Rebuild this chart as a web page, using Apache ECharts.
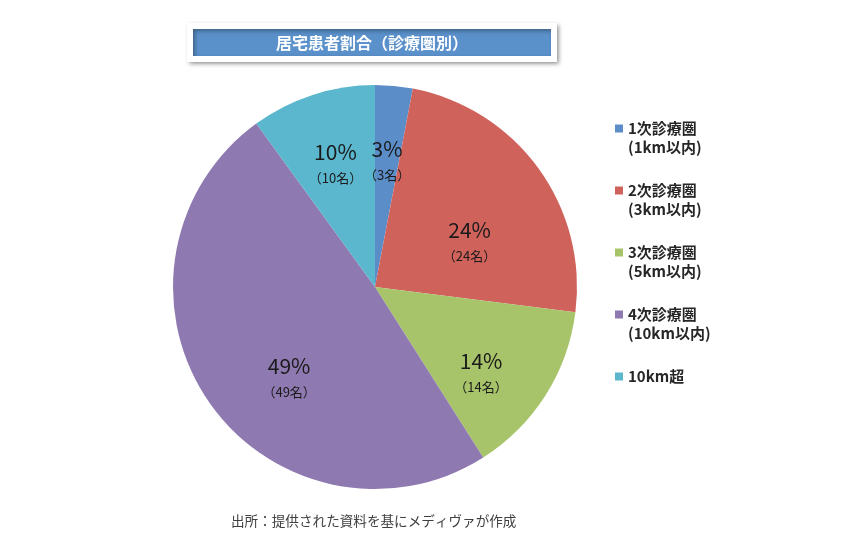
<!DOCTYPE html>
<html>
<head>
<meta charset="utf-8">
<script src="https://cdn.jsdelivr.net/npm/echarts@6/dist/echarts.min.js"></script>
<style>
html,body{margin:0;padding:0;background:#fff;}
#c{width:866px;height:539px;}
</style>
</head>
<body>
<div id="c"></div>
<script>
const titleText = '居宅患者割合（診療圏別）';
const sourceText = '出所：提供された資料を基にメディヴァが作成';
const categories = ['1次診療圏\n(1km以内)', '2次診療圏\n(3km以内)', '3次診療圏\n(5km以内)', '4次診療圏\n(10km以内)', '10km超'];
const patientCounts = [3, 24, 14, 49, 10];
const sliceColors = ['#5b8ec9', '#d0625c', '#a8c46a', '#8f79b1', '#5ab7ce'];
const labelOffsets = [[0, 2], [-9, 31], [-2, 18], [20, 20], [0, 0]];

const font = '"Noto Sans CJK JP", "Noto Sans", sans-serif';
const chart = echarts.init(document.getElementById('c'));

const pieData = categories.map((n, i) => ({ name: n, value: patientCounts[i], itemStyle: { color: sliceColors[i] } }));
const labelData = categories.map((n, i) => ({ name: n, value: patientCounts[i], label: { offset: labelOffsets[i] } }));

chart.setOption({
  backgroundColor: '#fff',
  textStyle: { fontFamily: font },
  animation: false,
  title: [{
    text: titleText,
    left: 190, top: 26,
    padding: [8, 86, 8, 86],
    backgroundColor: '#5b91cb',
    borderColor: '#ffffff',
    borderWidth: 6,
    shadowColor: 'rgba(0,0,0,0.35)',
    shadowBlur: 4,
    shadowOffsetX: 2,
    shadowOffsetY: 2,
    textStyle: { color: '#fff', fontSize: 16, fontWeight: 'bold', fontFamily: font, lineHeight: 17 }
  }, {
    text: sourceText,
    left: 231, top: 514,
    padding: 0,
    textStyle: { color: '#404040', fontSize: 13.6, fontWeight: 'normal', fontFamily: font }
  }],
  legend: {
    orient: 'vertical',
    left: 615, top: 100,
    padding: 0,
    itemWidth: 8, itemHeight: 8,
    itemGap: 5,
    icon: 'rect',
    selectedMode: false,
    formatter: function (name) {
      return name.indexOf('\n') >= 0 ? '\n' + name : '\n' + name + '\n';
    },
    data: categories,
    textStyle: { color: '#262626', fontSize: 15, fontWeight: 'bold', lineHeight: 19, fontFamily: font }
  },
  series: [{
    type: 'pie',
    center: [375, 287],
    radius: 202,
    startAngle: 90,
    clockwise: true,
    label: { show: false },
    labelLine: { show: false },
    emphasis: { disabled: true },
    itemStyle: { borderWidth: 0 },
    data: pieData
  }, {
    type: 'pie',
    center: [375, 287],
    radius: 250,
    startAngle: 90,
    clockwise: true,
    silent: true,
    itemStyle: { color: 'rgba(0,0,0,0)', borderWidth: 0 },
    emphasis: { disabled: true },
    labelLine: { show: false },
    label: {
      show: true,
      position: 'inside',
      formatter: '{p|{d}%}\n{n|（{c}名）}',
      rich: {
        p: { fontSize: 21, color: '#1a1a1a', lineHeight: 26, fontFamily: font, align: 'center' },
        n: { fontSize: 13, color: '#1a1a1a', lineHeight: 26, fontFamily: font, align: 'center' }
      }
    },
    data: labelData
  }]
});
</script>
</body>
</html>
